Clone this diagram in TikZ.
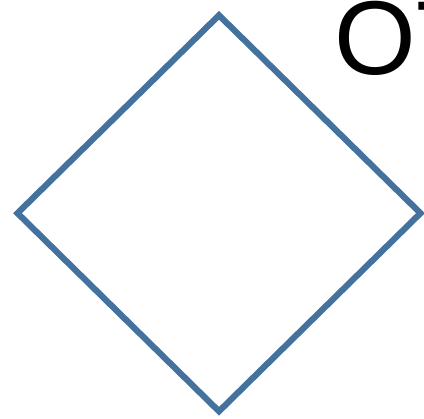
\documentclass[tikz,border=0pt]{standalone}
\usepackage{fontspec}
\setmainfont{Liberation Sans}
\definecolor{diablue}{RGB}{68,114,158}
\tikzset{
  diaedge/.style={draw=diablue, line width=6.2pt, line join=miter},
  bigtext/.style={anchor=base west, inner sep=0pt, font=\fontsize{105}{105}\selectfont, text=black}
}
\begin{document}
\begin{tikzpicture}[x=1pt,y=-1pt]
\useasboundingbox (0,0) rectangle (424,419);
\clip (0,0) rectangle (424,419);
\coordinate (t) at (219,15.3);
\coordinate (l) at (17.5,213.2);
\coordinate (b) at (219,411.3);
\coordinate (r) at (420.5,213.2);
\draw[diaedge] (t) -- (r) -- (b) -- (l) -- cycle;
\node[bigtext] (lbl) at (334.5,74.7) {OT};
\end{tikzpicture}
\end{document}
